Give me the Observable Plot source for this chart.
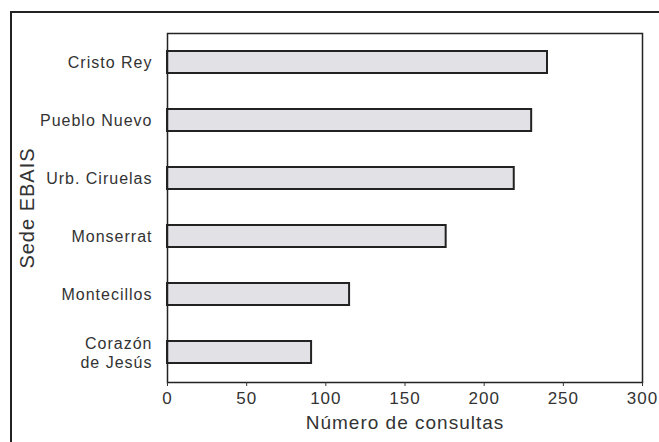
<!DOCTYPE html>
<html><head><meta charset="utf-8">
<script src="https://cdn.jsdelivr.net/npm/d3@7"></script>
<script src="https://cdn.jsdelivr.net/npm/@observablehq/plot@0.6"></script>
<style>
body{margin:0;background:#fff;}
#wrap{position:relative;width:659px;height:442px;overflow:hidden;}
#outer{position:absolute;left:10px;top:11px;width:660px;height:440px;border-left:2px solid #222;border-top:2px solid #222;box-sizing:border-box;}
#chart{position:absolute;left:0;top:0;}
#chart svg text{letter-spacing:1px;}
</style>
</head><body>
<div id="wrap"><div id="outer"></div><div id="chart"></div></div>
<script>
const sedes = ["Cristo Rey","Pueblo Nuevo","Urb. Ciruelas","Monserrat","Montecillos","Corazón\nde Jesús"];
const consultas = [240, 230, 219, 176, 115, 91];
const xTicks = [0,50,100,150,200,250,300];
const data = sedes.map((s,i)=>({sede:s, n:consultas[i]}));

const chart = Plot.plot({
  width: 659, height: 442,
  marginLeft: 167, marginRight: 17, marginTop: 33, marginBottom: 60,
  style: {fontFamily: "Liberation Sans, Arial, sans-serif", fontSize: "16px", color: "#333", background: "transparent"},
  x: {domain: [0,300], ticks: xTicks},
  y: {domain: sedes, paddingInner: 0.62, paddingOuter: 0.3},
  marks: [
    Plot.barX(data, {x: "n", y: "sede", fill: "#e2e2e6", stroke: "#222", strokeWidth: 2}),
    Plot.frame({stroke: "#222", strokeWidth: 1.5}),
    Plot.axisX({ticks: xTicks, tickSize: 4, tickPadding: 5, fontSize: 17, label: null}),
    Plot.axisX({ticks: [], tickSize: 0, label: "Número de consultas", labelAnchor: "center", labelOffset: 46, labelArrow: "none", fontSize: 19}),
    Plot.axisY({tickSize: 0, tickPadding: 15, fontSize: 16, label: null, lineHeight: 1.15}),
    Plot.axisY({ticks: [], tickSize: 0, label: "Sede EBAIS", labelAnchor: "center", labelOffset: 148, labelArrow: "none", fontSize: 20})
  ]
});
document.getElementById("chart").appendChild(chart);
</script>
</body></html>
